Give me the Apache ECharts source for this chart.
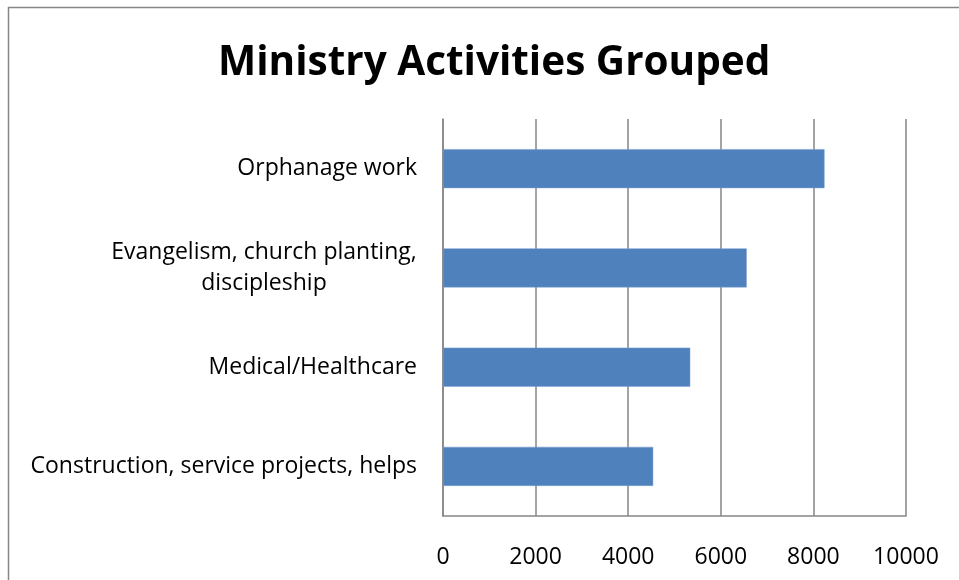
<!DOCTYPE html>
<html>
<head>
<meta charset="utf-8">
<script src="https://cdn.jsdelivr.net/npm/echarts@6/dist/echarts.min.js"></script>
<style>
html,body{margin:0;padding:0;background:#fff;}
#chart{width:959px;height:580px;}
</style>
</head>
<body>
<div id="chart"></div>
<script>
const categories = [
  'Orphanage work',
  'Evangelism, church planting,\ndiscipleship',
  'Medical/Healthcare',
  'Construction, service projects, helps'
];
const values = [8240, 6560, 5340, 4540];
const xTicks = [0, 2000, 4000, 6000, 8000, 10000];

const FONT = '"Open Sans", sans-serif';
const LABEL_SIZE = 23;

// width of the widest line of the multi-line label, for centering lines
const ctx = document.createElement('canvas').getContext('2d');
ctx.font = LABEL_SIZE + 'px "Open Sans"';
let maxLine = 0;
categories.forEach(c => {
  if (c.indexOf('\n') >= 0) c.split('\n').forEach(s => { maxLine = Math.max(maxLine, ctx.measureText(s).width); });
});

const chart = echarts.init(document.getElementById('chart'), null, {renderer: 'canvas'});
chart.setOption({
  backgroundColor: '#ffffff',
  animation: false,
  title: {
    text: 'Ministry Activities Grouped',
    left: 213,
    top: 38,
    textStyle: {fontFamily: FONT, fontWeight: 'bold', fontSize: 40.5, color: '#000'}
  },
  graphic: [{
    type: 'rect',
    shape: {x: 8.5, y: 7.5, width: 1200, height: 1200},
    style: {fill: 'none', stroke: '#868686', lineWidth: 1.5},
    silent: true
  }],
  grid: {left: 443, right: 53, top: 119, bottom: 64, containLabel: false},
  xAxis: {
    type: 'value',
    min: xTicks[0],
    max: xTicks[xTicks.length - 1],
    interval: 2000,
    axisLine: {show: true, lineStyle: {color: '#868686', width: 1.5}},
    axisTick: {show: false},
    splitLine: {show: true, lineStyle: {color: '#868686', width: 1.5}},
    axisLabel: {margin: 30, fontFamily: FONT, fontSize: LABEL_SIZE, color: '#000',
      formatter: v => String(v)}
  },
  yAxis: {
    type: 'category',
    inverse: true,
    data: categories,
    axisLine: {show: true, lineStyle: {color: '#868686', width: 1.5}},
    axisTick: {show: false},
    axisLabel: {
      margin: 26,
      fontFamily: FONT,
      fontSize: LABEL_SIZE,
      color: '#000',
      formatter: function (v) {
        if (v.indexOf('\n') >= 0) {
          return v.split('\n').map(s => '{c|' + s + '}').join('\n');
        }
        return v;
      },
      rich: {
        c: {width: Math.ceil(maxLine), align: 'center', fontFamily: FONT, fontSize: LABEL_SIZE, color: '#000', lineHeight: 31}
      }
    }
  },
  series: [{
    type: 'bar',
    data: values,
    barWidth: 39,
    itemStyle: {color: '#4F81BD', borderColor: '#7A9FCF', borderWidth: 0.5}
  }]
});
</script>
</body>
</html>
